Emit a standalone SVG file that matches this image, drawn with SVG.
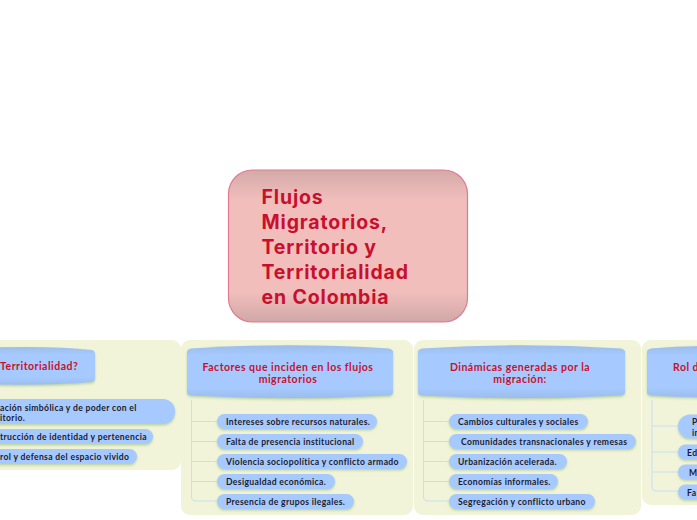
<svg xmlns="http://www.w3.org/2000/svg" width="697" height="520" viewBox="0 0 697 520">
<defs>
<linearGradient id="gc" x1="0" y1="0" x2="0" y2="1"><stop offset="0" stop-color="#d3aaa9"/><stop offset=".2" stop-color="#f1bebc"/><stop offset=".8" stop-color="#f1bebc"/><stop offset="1" stop-color="#d0a8a7"/></linearGradient>
<linearGradient id="gh" x1="0" y1="0" x2="0" y2="1"><stop offset="0" stop-color="#9cbcec"/><stop offset=".2" stop-color="#a6caff"/><stop offset=".8" stop-color="#a6caff"/><stop offset="1" stop-color="#9cbcec"/></linearGradient>
<filter id="s" x="-10%" y="-20%" width="120%" height="150%"><feDropShadow dx="0" dy="1.500" stdDeviation="1" flood-color="#b4cf9f" flood-opacity=".9"/></filter>
</defs>
<style>
text{font-family:"Lato","Liberation Sans",sans-serif;font-weight:700}
.p{fill:#f1f4d8}
.h{fill:url(#gh);filter:url(#s)}
.t{fill:#c8102e;font-size:10.5px;text-anchor:middle;letter-spacing:.5px}
.b{fill:#a6caff;filter:url(#s)}
.l{fill:#1c1c2c;font-size:8.6px;letter-spacing:.35px}
.c{fill:none;stroke:#c9def0;stroke-width:1}
.root{fill:#c8102e;font-family:"Inter","Liberation Sans",sans-serif;font-size:19.500px;letter-spacing:.85px}
</style>
<g id="panels">
<rect class="p" x="-60" y="340" width="241" height="130" rx="9"/>
<rect class="p" x="181" y="340" width="232" height="175" rx="9"/>
<rect class="p" x="414" y="340" width="227" height="175" rx="9"/>
<rect class="p" x="642" y="340" width="120" height="165" rx="9"/>
</g>
<g id="connectors">
<path class="c" d="M191.500 400V497Q191.500 501 196 501H218M191.500 421.500H218M191.500 441.500H218M191.500 461.500H218M191.500 481.500H218"/>
<path class="c" d="M423.500 400V497Q423.500 501 428 501H450M423.500 421.500H450M423.500 441.500H450M423.500 461.500H450M423.500 481.500H450"/>
<path class="c" stroke-width="1.500" d="M652 400V487Q652 491 656 491H678M652 426H678M652 452H678M652 472H678"/>
</g>
<g id="central">
<rect x="228.500" y="170" width="239" height="152" rx="24" fill="url(#gc)" stroke="#e07a90" stroke-width="1.200"/>
<text class="root"><tspan x="261.500" y="204">Flujos</tspan><tspan x="261.500" y="229">Migratorios,</tspan><tspan x="261.500" y="254">Territorio y</tspan><tspan x="261.500" y="279">Territorialidad</tspan><tspan x="261.500" y="304">en Colombia</tspan></text>
</g>
<g id="topic-territorialidad">
<path class="h" d="M-30 348Q50 345 92 350Q95 351 95 354V378Q95 381 92 382Q50 386 -30 384Z"/>
<text class="t" x="0" y="369.500" style="text-anchor:start">Territorialidad?</text>
</g>
<g id="n-a1"><rect class="b" x="-60" y="399" width="235" height="25" rx="12"/><text class="l"><tspan x="0" y="410.500">ación simbólica y de poder con el</tspan><tspan x="0" y="421">itorio.</tspan></text></g>
<g id="n-a2"><rect class="b" x="-60" y="429" width="213" height="15" rx="7.500"/><text class="l" x="0" y="440">trucción de identidad y pertenencia</text></g>
<g id="n-a3"><rect class="b" x="-60" y="449" width="197" height="15" rx="7.500"/><text class="l" x="0" y="460">rol y defensa del espacio vivido</text></g>
<g id="topic-factores">
<path class="h" d="M187 351Q188 349 191 348.500Q288 342 389 348.500Q392 349 393 351V393Q392 395 389 395.500Q288 401 191 395.500Q188 395 187 393Z"/>
<text class="t"><tspan x="288" y="370.500">Factores que inciden en los flujos</tspan><tspan x="288" y="383">migratorios</tspan></text>
</g>
<g id="n-f1"><rect class="b" x="217" y="414" width="160" height="15" rx="7.500"/><text class="l" x="226" y="425">Intereses sobre recursos naturales.</text></g>
<g id="n-f2"><rect class="b" x="217" y="434" width="146" height="15" rx="7.500"/><text class="l" x="226" y="445">Falta de presencia institucional</text></g>
<g id="n-f3"><rect class="b" x="217" y="454" width="190" height="15" rx="7.500"/><text class="l" x="226" y="465">Violencia sociopolítica y conflicto armado</text></g>
<g id="n-f4"><rect class="b" x="217" y="474" width="118" height="15" rx="7.500"/><text class="l" x="226" y="485">Desigualdad económica.</text></g>
<g id="n-f5"><rect class="b" x="217" y="494" width="137" height="15" rx="7.500"/><text class="l" x="226" y="505">Presencia de grupos ilegales.</text></g>
<g id="topic-dinamicas">
<path class="h" d="M418 351Q419 349 422 348.500Q520 342 621 348.500Q624 349 625 351V393Q624 395 621 395.500Q520 401 422 395.500Q419 395 418 393Z"/>
<text class="t"><tspan x="520" y="370.500">Dinámicas generadas por la</tspan><tspan x="520" y="383">migración:</tspan></text>
</g>
<g id="n-d1"><rect class="b" x="449" y="414" width="139" height="15" rx="7.500"/><text class="l" x="458" y="425">Cambios culturales y sociales</text></g>
<g id="n-d2"><rect class="b" x="449" y="434" width="187" height="15" rx="7.500"/><text class="l" x="461" y="445">Comunidades transnacionales y remesas</text></g>
<g id="n-d3"><rect class="b" x="449" y="454" width="118" height="15" rx="7.500"/><text class="l" x="458" y="465">Urbanización acelerada.</text></g>
<g id="n-d4"><rect class="b" x="449" y="474" width="109" height="15" rx="7.500"/><text class="l" x="458" y="485">Economías informales.</text></g>
<g id="n-d5"><rect class="b" x="449" y="494" width="146" height="15" rx="7.500"/><text class="l" x="458" y="505">Segregación y conflicto urbano</text></g>
<g id="topic-rol">
<path class="h" d="M647 351Q648 349 651 348.500Q700 344 760 347V396Q700 399 651 395.500Q648 395 647 393Z"/>
<text class="t" x="673" y="370.500" style="text-anchor:start">Rol d</text>
</g>
<g id="n-r1"><rect class="b" x="678" y="414.500" width="80" height="24" rx="12"/><text class="l"><tspan x="692" y="425">P</tspan><tspan x="692" y="436">in</tspan></text></g>
<g id="n-r2"><rect class="b" x="678" y="444.500" width="80" height="15" rx="7.500"/><text class="l" x="687" y="455.500">Ed</text></g>
<g id="n-r3"><rect class="b" x="678" y="464.500" width="80" height="15" rx="7.500"/><text class="l" x="689" y="475.500">M</text></g>
<g id="n-r4"><rect class="b" x="678" y="484.500" width="80" height="15" rx="7.500"/><text class="l" x="687" y="495.500">Fa</text></g>
</svg>
